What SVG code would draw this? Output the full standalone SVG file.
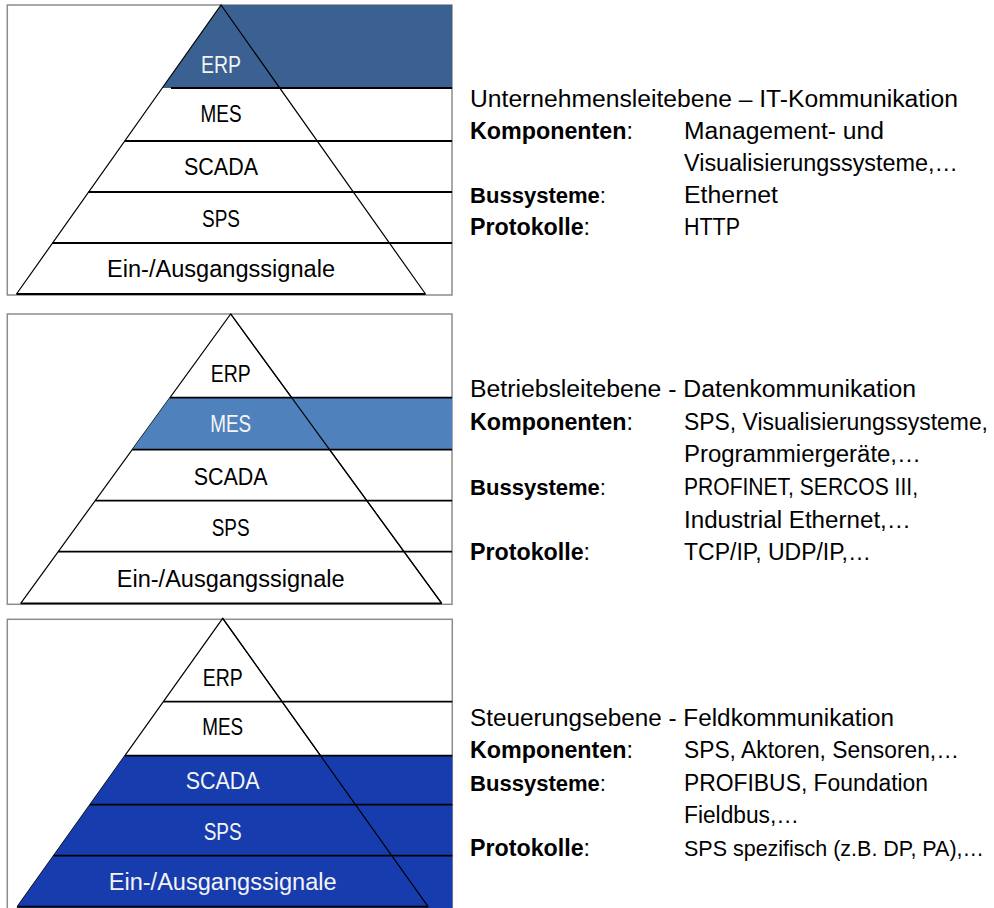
<svg xmlns="http://www.w3.org/2000/svg" width="994" height="908" viewBox="0 0 994 908">
  <style>
    .frame { fill: #ffffff; stroke: #8c8c8c; stroke-width: 1.5; }
    .edge { fill: none; stroke: #000000; stroke-width: 1.2; }
    .band { stroke: #000000; stroke-width: 1.8; }
    .lvl { font-family: "Liberation Sans", Arial, sans-serif; font-size: 23px; text-anchor: middle; fill: #000000; }
    .lvl.on { fill: #f4f4f4; }
    .txt { font-family: "Liberation Sans", Arial, sans-serif; font-size: 23px; fill: #000000; }
    .txt.sm { font-size: 22px; }
    .b { font-weight: bold; }
    .fill1 { fill: #3a6191; }
    .fill2 { fill: #4f81bd; }
    .fill3 { fill: #173cad; }
  </style>

  <rect width="994" height="908" fill="#ffffff"/>

  <!-- Pyramid 1: ERP highlighted -->
  <g id="pyramid-erp">
    <rect class="frame" x="7.3" y="5" width="444.7" height="290"/>
    <polygon class="fill1" points="221,5 452,5 452,88 162.4,88"/>
    <polyline class="edge" points="16.5,294 221,5 425.5,294"/>
    <g>
      <line class="band" x1="171" y1="88" x2="452" y2="88"/>
      <line class="band" x1="124.7" y1="141" x2="452" y2="141"/>
      <line class="band" x1="88.6" y1="192" x2="452" y2="192"/>
      <line class="band" x1="52.5" y1="243" x2="452" y2="243"/>
      <line class="band" x1="16.5" y1="294" x2="425.5" y2="294"/>
    </g>
    <text class="lvl on" x="221" y="72.7" textLength="40" lengthAdjust="spacingAndGlyphs">ERP</text>
    <text class="lvl" x="221" y="121.7" textLength="41" lengthAdjust="spacingAndGlyphs">MES</text>
    <text class="lvl" x="221" y="175" textLength="74" lengthAdjust="spacingAndGlyphs">SCADA</text>
    <text class="lvl" x="221" y="226.7" textLength="38" lengthAdjust="spacingAndGlyphs">SPS</text>
    <text class="lvl" x="221" y="277.3" textLength="228" lengthAdjust="spacingAndGlyphs">Ein-/Ausgangssignale</text>
  </g>

  <g id="info-erp">
    <text class="txt" x="470" y="107" textLength="488" lengthAdjust="spacingAndGlyphs">Unternehmensleitebene – IT-Kommunikation</text>
    <text class="txt" x="470" y="139" textLength="163" lengthAdjust="spacingAndGlyphs"><tspan class="b">Komponenten</tspan>:</text>
    <text class="txt" x="684" y="139" textLength="200" lengthAdjust="spacingAndGlyphs">Management- und</text>
    <text class="txt" x="684" y="171" textLength="274" lengthAdjust="spacingAndGlyphs">Visualisierungssysteme,…</text>
    <text class="txt sm" x="470" y="203" textLength="136" lengthAdjust="spacingAndGlyphs"><tspan class="b">Bussysteme</tspan>:</text>
    <text class="txt" x="684" y="203" textLength="94" lengthAdjust="spacingAndGlyphs">Ethernet</text>
    <text class="txt" x="470" y="235" textLength="120" lengthAdjust="spacingAndGlyphs"><tspan class="b">Protokolle</tspan>:</text>
    <text class="txt" x="684" y="235" textLength="56" lengthAdjust="spacingAndGlyphs">HTTP</text>
  </g>

  <!-- Pyramid 2: MES highlighted -->
  <g id="pyramid-mes">
    <rect class="frame" x="7.3" y="314" width="444.7" height="290.3"/>
    <polyline class="edge" points="20.7,603.3 230.7,314 441.7,603.3"/>
    <polygon class="fill2" points="169.9,397.7 452,397.7 452,449.7 132.2,449.7"/>
    <line class="edge" x1="230.7" y1="314" x2="441.7" y2="603.3"/>
    <g>
      <line class="band" x1="169.9" y1="397.7" x2="452" y2="397.7"/>
      <line class="band" x1="132.2" y1="449.7" x2="452" y2="449.7"/>
      <line class="band" x1="95.2" y1="500.7" x2="452" y2="500.7"/>
      <line class="band" x1="58.1" y1="551.7" x2="452" y2="551.7"/>
      <line class="band" x1="20.7" y1="603.3" x2="441.7" y2="603.3"/>
    </g>
    <text class="lvl" x="230.7" y="381.7" textLength="40" lengthAdjust="spacingAndGlyphs">ERP</text>
    <text class="lvl on" x="230.7" y="431.7" textLength="41" lengthAdjust="spacingAndGlyphs">MES</text>
    <text class="lvl" x="230.7" y="485" textLength="74" lengthAdjust="spacingAndGlyphs">SCADA</text>
    <text class="lvl" x="230.7" y="536" textLength="38" lengthAdjust="spacingAndGlyphs">SPS</text>
    <text class="lvl" x="230.7" y="586.7" textLength="228" lengthAdjust="spacingAndGlyphs">Ein-/Ausgangssignale</text>
  </g>

  <g id="info-mes">
    <text class="txt" x="470" y="397" textLength="446" lengthAdjust="spacingAndGlyphs">Betriebsleitebene - Datenkommunikation</text>
    <text class="txt" x="470" y="430" textLength="163" lengthAdjust="spacingAndGlyphs"><tspan class="b">Komponenten</tspan>:</text>
    <text class="txt" x="684" y="430" textLength="304" lengthAdjust="spacingAndGlyphs">SPS, Visualisierungssysteme,</text>
    <text class="txt" x="684" y="462" textLength="237" lengthAdjust="spacingAndGlyphs">Programmiergeräte,…</text>
    <text class="txt sm" x="470" y="495" textLength="136" lengthAdjust="spacingAndGlyphs"><tspan class="b">Bussysteme</tspan>:</text>
    <text class="txt" x="684" y="495" textLength="234" lengthAdjust="spacingAndGlyphs">PROFINET, SERCOS III,</text>
    <text class="txt" x="684" y="528" textLength="227" lengthAdjust="spacingAndGlyphs">Industrial Ethernet,…</text>
    <text class="txt" x="470" y="560" textLength="120" lengthAdjust="spacingAndGlyphs"><tspan class="b">Protokolle</tspan>:</text>
    <text class="txt" x="684" y="560" textLength="187" lengthAdjust="spacingAndGlyphs">TCP/IP, UDP/IP,…</text>
  </g>

  <!-- Pyramid 3: SCADA, SPS and I/O highlighted -->
  <g id="pyramid-field">
    <rect class="frame" x="7.3" y="619.3" width="445" height="300"/>
    <polyline class="edge" points="17.3,906.7 222.7,618.3 428.1,906.7"/>
    <polygon class="fill3" points="124.9,755.7 452.3,755.7 452.3,908 16.4,908"/>
    <line class="edge" x1="222.7" y1="618.3" x2="428.1" y2="906.7"/>
    <g>
      <line class="band" x1="163.3" y1="701.7" x2="452.3" y2="701.7"/>
      <line class="band" x1="124.9" y1="755.7" x2="452.3" y2="755.7"/>
      <line class="band" x1="90" y1="804.7" x2="452.3" y2="804.7"/>
      <line class="band" x1="53.7" y1="855.7" x2="452.3" y2="855.7"/>
      <line class="band" x1="17.3" y1="906.7" x2="428.1" y2="906.7"/>
    </g>
    <text class="lvl" x="222.7" y="686" textLength="40" lengthAdjust="spacingAndGlyphs">ERP</text>
    <text class="lvl" x="222.7" y="735" textLength="41" lengthAdjust="spacingAndGlyphs">MES</text>
    <text class="lvl on" x="222.7" y="789" textLength="74" lengthAdjust="spacingAndGlyphs">SCADA</text>
    <text class="lvl on" x="222.7" y="840" textLength="38" lengthAdjust="spacingAndGlyphs">SPS</text>
    <text class="lvl on" x="222.7" y="890" textLength="228" lengthAdjust="spacingAndGlyphs">Ein-/Ausgangssignale</text>
  </g>

  <g id="info-field">
    <text class="txt" x="470" y="726" textLength="424" lengthAdjust="spacingAndGlyphs">Steuerungsebene - Feldkommunikation</text>
    <text class="txt" x="470" y="758" textLength="163" lengthAdjust="spacingAndGlyphs"><tspan class="b">Komponenten</tspan>:</text>
    <text class="txt" x="684" y="758" textLength="275" lengthAdjust="spacingAndGlyphs">SPS, Aktoren, Sensoren,…</text>
    <text class="txt sm" x="470" y="791" textLength="136" lengthAdjust="spacingAndGlyphs"><tspan class="b">Bussysteme</tspan>:</text>
    <text class="txt" x="684" y="791" textLength="244" lengthAdjust="spacingAndGlyphs">PROFIBUS, Foundation</text>
    <text class="txt" x="684" y="823" textLength="115" lengthAdjust="spacingAndGlyphs">Fieldbus,…</text>
    <text class="txt" x="470" y="856" textLength="120" lengthAdjust="spacingAndGlyphs"><tspan class="b">Protokolle</tspan>:</text>
    <text class="txt" x="684" y="856" style="font-size:21.5px" textLength="300" lengthAdjust="spacingAndGlyphs">SPS spezifisch (z.B. DP, PA),…</text>
  </g>
</svg>
